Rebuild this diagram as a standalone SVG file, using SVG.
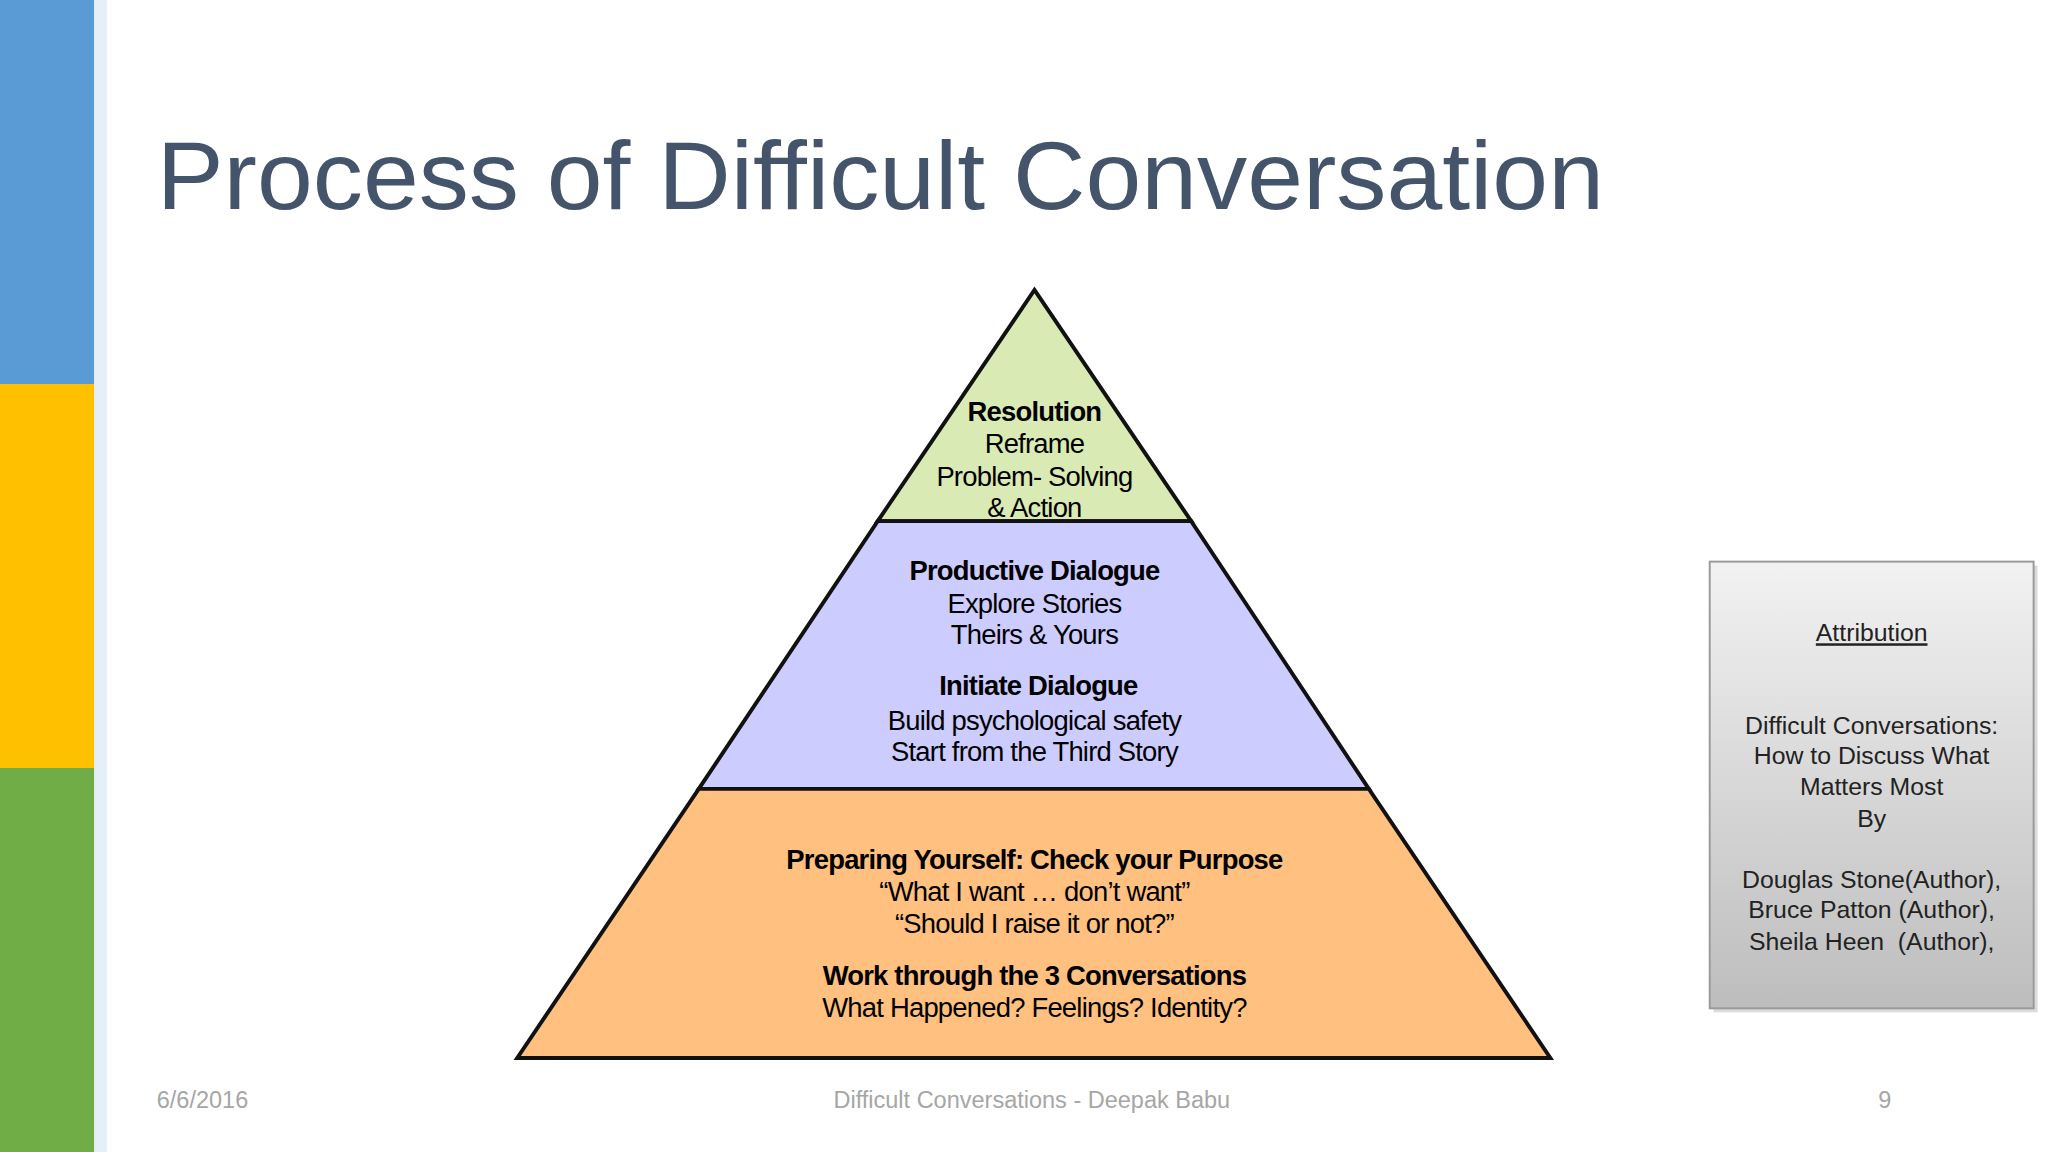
<svg xmlns="http://www.w3.org/2000/svg" width="2048" height="1152" viewBox="0 0 2048 1152">
<defs>
<linearGradient id="gb" x1="0" y1="0" x2="0" y2="1"><stop offset="0" stop-color="#f2f2f2"/><stop offset="1" stop-color="#bdbdbd"/></linearGradient>
<style>
.t{font-family:"Liberation Sans",Arial,sans-serif;font-size:21px;fill:#000;text-anchor:middle;letter-spacing:-0.6px}
.b{font-weight:bold}
.a{font-family:"Liberation Sans",Arial,sans-serif;font-size:19px;fill:#222;text-anchor:middle}
.f{font-family:"Liberation Sans",Arial,sans-serif;font-size:18px;fill:#a6a6a6}
</style>
</defs>
<rect width="2048" height="1152" fill="#fff"/>
<g transform="scale(1.30612)">
<g id="bars">
<rect x="72" y="0" width="10" height="882" fill="#e6eef7"/>
<rect x="0" y="0" width="72" height="294" fill="#5b9bd5"/>
<rect x="0" y="294" width="72" height="294" fill="#ffc000"/>
<rect x="0" y="588" width="72" height="294" fill="#70ad47"/>
</g>
<text x="120" y="160" font-family="'Liberation Sans',Arial,sans-serif" font-size="74" fill="#44546a" textLength="1108" lengthAdjust="spacingAndGlyphs">Process of Difficult Conversation</text>
<g id="pyramid" stroke="#111" stroke-width="3" stroke-linejoin="miter">
<polygon points="792,222 912,399 672,399" fill="#d9eab4"/>
<polygon points="672,399 912,399 1048,604 535,604" fill="#ccccff"/>
<polygon points="535,604 1048,604 1187,810 396,810" fill="#ffc080"/>
</g>
<g id="n-resolution">
<text class="t b" x="792" y="322">Resolution</text>
<text class="t" x="792" y="347">Reframe</text>
<text class="t" x="792" y="372">Problem- Solving</text>
<text class="t" x="792" y="396">&amp; Action</text>
</g>
<g id="n-dialogue">
<text class="t b" x="792" y="444">Productive Dialogue</text>
<text class="t" x="792" y="469">Explore Stories</text>
<text class="t" x="792" y="493">Theirs &amp; Yours</text>
<text class="t b" x="795" y="532">Initiate Dialogue</text>
<text class="t" x="792" y="559">Build psychological safety</text>
<text class="t" x="792" y="583">Start from the Third Story</text>
</g>
<g id="n-prepare">
<text class="t b" x="792" y="665">Preparing Yourself: Check your Purpose</text>
<text class="t" x="792" y="690">“What I want … don’t want”</text>
<text class="t" x="792" y="714">“Should I raise it or not?”</text>
<text class="t b" x="792" y="754">Work through the 3 Conversations</text>
<text class="t" x="792" y="779">What Happened? Feelings? Identity?</text>
</g>
<g id="connectors"/>
<g id="attribution">
<rect x="1312" y="433" width="248" height="342" fill="#999" opacity="0.35"/>
<rect x="1309" y="430" width="248" height="342" fill="url(#gb)" stroke="#9a9a9a" stroke-width="1.5"/>
<text class="a" x="1433" y="491" text-decoration="underline">Attribution</text>
<text class="a" x="1433" y="562">Difficult Conversations:</text>
<text class="a" x="1433" y="585">How to Discuss What</text>
<text class="a" x="1433" y="609">Matters Most</text>
<text class="a" x="1433" y="633">By</text>
<text class="a" x="1433" y="680">Douglas Stone(Author),</text>
<text class="a" x="1433" y="703">Bruce Patton (Author),</text>
<text class="a" x="1433" y="727" xml:space="preserve">Sheila Heen  (Author),</text>
</g>
<text class="f" x="120" y="848">6/6/2016</text>
<text class="f" x="790" y="848" text-anchor="middle">Difficult Conversations - Deepak Babu</text>
<text class="f" x="1443" y="848" text-anchor="middle">9</text>
</g>
</svg>
